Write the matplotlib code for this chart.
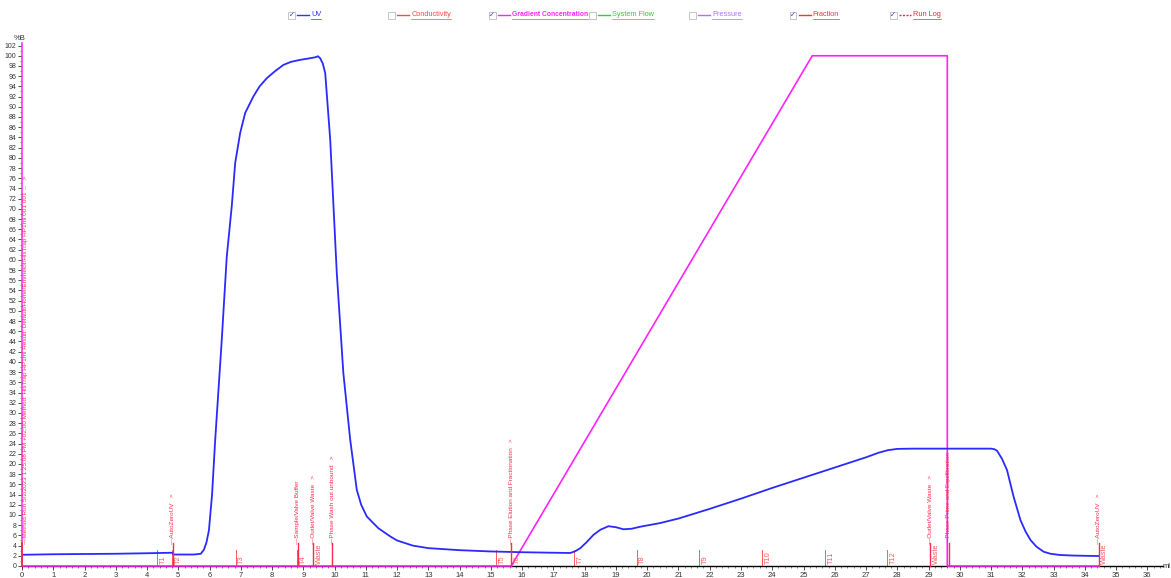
import matplotlib
matplotlib.use("Agg")
import matplotlib.pyplot as plt
from matplotlib.lines import Line2D
from matplotlib.patches import Rectangle
from matplotlib.ticker import MultipleLocator

plt.rcParams["font.family"] = ["Liberation Sans", "DejaVu Sans"]

# UV trace (plotted on the %B scale, as in the UNICORN view)
uv_ml = [0, 1, 2, 3, 4, 4.8, 4.85, 5.5, 5.72, 5.82, 5.9, 5.98, 6.08, 6.18, 6.39, 6.55, 6.71,
         6.82, 6.98, 7.14, 7.4, 7.6, 7.83, 8.1, 8.36, 8.6, 8.9, 9.2, 9.38, 9.47, 9.54, 9.62,
         9.7, 9.86, 10.07, 10.28, 10.5, 10.71, 10.85, 11.03, 11.4, 11.78, 12, 12.5, 13, 14,
         15, 16, 17, 17.54, 17.7, 17.86, 18.05, 18.28, 18.5, 18.76, 19.0, 19.24, 19.5, 19.78,
         20.4, 21, 22, 23, 24, 25, 26, 26.5, 27, 27.4, 27.7, 28, 28.5, 29, 30, 31, 31.1,
         31.19, 31.35, 31.51, 31.72, 31.94, 32.1, 32.26, 32.45, 32.68, 32.9, 33.2, 33.6,
         34.0, 34.39, 34.45]
uv_val = [2.2, 2.3, 2.35, 2.4, 2.5, 2.6, 2.25, 2.25, 2.4, 3.2, 4.6, 7.0, 14.0, 24.7, 44.3,
          60.6, 70.5, 79.0, 84.9, 88.8, 92.0, 94.0, 95.6, 97.0, 98.2, 98.8, 99.2, 99.5, 99.7,
          99.9, 99.5, 98.5, 96.6, 83.5, 57.4, 37.8, 24.7, 14.9, 12.0, 9.7, 7.4, 5.8, 5.0,
          4.0, 3.5, 3.1, 2.85, 2.7, 2.6, 2.55, 2.9, 3.5, 4.6, 6.1, 7.1, 7.8, 7.6, 7.2, 7.3,
          7.7, 8.4, 9.3, 11.2, 13.2, 15.3, 17.3, 19.3, 20.3, 21.3, 22.2, 22.7, 22.95, 23.0,
          23.0, 23.0, 23.0, 22.9, 22.6, 21.0, 18.8, 13.6, 9.0, 6.8, 5.1, 3.8, 2.8, 2.4, 2.16,
          2.05, 2.0, 1.96, 1.96]

# gradient concentration %B
grad_ml = [0, 15.65, 25.28, 29.6, 29.6, 34.45]
grad_val = [0, 0, 100, 100, 0, 0]

# fraction marks
frac_ml = [4.33, 4.81, 6.84, 8.80, 9.32, 15.17, 15.65, 17.66, 19.66, 21.66, 23.68, 25.70,
           27.68, 29.06, 34.44]
frac_lbl = ["T1", "T2", "T3", "T4", "Waste", "T5", "T6", "T7", "T8", "T9", "T10", "T11",
            "T12", "Waste", "Waste"]

# run log events
log_ml = [0.0, 4.82, 8.82, 9.32, 9.93, 15.65, 29.06, 29.64, 34.44]
log_txt = [
    "Method Run 5/2/2023 1:25:08 PM +02:00 Method: HisTrap HP1ml Result: "
    "Default/Home/Emmelot/HisTrap HP1ml 001 001 ...   >",
    "AutoZeroUV   >",
    "Sample/Valve Buffer",
    "Outlet/Valve Waste   >",
    "Phase Wash out unbound   >",
    "Phase Elution and Fractionation   >",
    "Outlet/Valve Waste   >",
    "Phase Prime and Equilibration",
    "AutoZeroUV   >",
]

legend_names = ["UV", "Conductivity", "Gradient Concentration", "System Flow", "Pressure",
                "Fraction", "Run Log"]
legend_colors = ["#3030ff", "#ff4848", "#ff22ff", "#33cc33", "#b070ff", "#ff3030", "#ff2040"]
legend_checked = [True, False, True, False, False, True, True]

W, H = 1171, 578
fig = plt.figure(figsize=(W / 100, H / 100), dpi=100)
ax = fig.add_axes([22 / W, 12 / H, (1163 - 22) / W, (566 - 43) / H])
ax.set_xlim(0, 36.5)
ax.set_ylim(0, 102.5)

ax.plot(grad_ml, grad_val, color="#ff22ff", lw=1.2, zorder=3, clip_on=False)
ax.plot(uv_ml, uv_val, color="#2a2aff", lw=1.3, zorder=4)

runlog_c = "#ff2a50"
frac_c = "#ff5a5a"
for x, lbl in zip(frac_ml, frac_lbl):
    if lbl != "Waste":
        ax.plot([x, x], [0, 3.2], color=frac_c, lw=0.7, zorder=2)
    ax.text(x + 0.08, 0.4, lbl, rotation=90, fontsize=5.3, color=frac_c,
            ha="left", va="bottom", zorder=5)

for x, t in zip(log_ml, log_txt):
    ax.plot([x, x], [0, 4.6], color=runlog_c, lw=1.4 if x == 0 else 1.0, zorder=5,
            clip_on=False)
    ax.text(x + (0.12 if x == 0 else 0.0), 4.4, "\u2014" + t, rotation=90, fontsize=4.6,
            color=runlog_c, ha="center", va="bottom", zorder=5)

for s in ["top", "right"]:
    ax.spines[s].set_visible(False)
ax.spines["left"].set_color("#ff33ff")
ax.spines["left"].set_linewidth(1.2)
ax.spines["bottom"].set_color("black")
ax.spines["bottom"].set_linewidth(1.0)
ax.spines["bottom"].set_zorder(2)

ax.xaxis.set_major_locator(MultipleLocator(1))
ax.xaxis.set_minor_locator(MultipleLocator(0.2))
ax.yaxis.set_major_locator(MultipleLocator(2))
ax.yaxis.set_minor_locator(MultipleLocator(1))
ax.set_xticks(range(0, 37))
ax.set_yticks(range(0, 103, 2))
ax.tick_params(axis="x", which="major", length=3, width=0.6, pad=1, labelsize=5.5,
               colors="#333333")
ax.tick_params(axis="x", which="minor", length=1.5, width=0.5, colors="#555555")
ax.tick_params(axis="y", which="major", length=3, width=0.6, pad=1, labelsize=5,
               colors="#333333")
ax.tick_params(axis="y", which="minor", length=1.5, width=0.5, colors="#555555")

fig.text(20 / W, 1 - 38 / H, "%B", fontsize=5.5, color="#333333", ha="center", va="center")
fig.text(1167 / W, 1 - 566 / H, "ml", fontsize=5.5, color="#333333", ha="center",
         va="center")

# clickable-style legend row
ly = 1 - 15 / H
fig.canvas.draw()
renderer = fig.canvas.get_renderer()
for i, (name, c, chk) in enumerate(zip(legend_names, legend_colors, legend_checked)):
    bx = 288 + i * 100.3
    fig.add_artist(Rectangle((bx / W, ly - 3.5 / H), 7 / W, 7 / H, transform=fig.transFigure,
                             fill=False, ec="#bbbbbb", lw=0.6))
    if chk:
        fig.text((bx + 3.5) / W, ly, "\u2713", fontsize=5, color="#3030c0", ha="center",
                 va="center", family="DejaVu Sans")
    if name == "Run Log":
        fig.add_artist(Line2D([(bx + 9) / W, (bx + 21) / W], [ly, ly], color=c, lw=1.0,
                              ls=(0, (1.5, 1)), transform=fig.transFigure))
    else:
        fig.add_artist(Line2D([(bx + 9) / W, (bx + 21) / W], [ly, ly], color=c, lw=1.0,
                              transform=fig.transFigure))
    t = fig.text((bx + 23) / W, ly, name, fontsize=5.3 if i != 2 else 4.9, color=c,
                 ha="left", va="center",
                 weight="bold" if name == "Gradient Concentration" else "normal")
    bb = t.get_window_extent(renderer)
    fig.add_artist(Line2D([bb.x0 / W, bb.x1 / W], [ly - 4 / H, ly - 4 / H], color=c, lw=0.5,
                          transform=fig.transFigure))

fig.savefig("out.png", dpi=100)
